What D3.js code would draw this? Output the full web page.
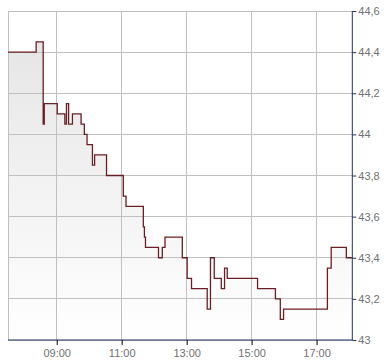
<!DOCTYPE html>
<html><head><meta charset="utf-8">
<script src="https://cdn.jsdelivr.net/npm/d3@7"></script>
<style>body{margin:0;background:#fff}svg{display:block}</style>
</head><body>
<svg id="c" width="390" height="364"></svg>
<script>
const times = ["07:30","08:22","08:35","08:37","09:01","09:15","09:18","09:22","09:29","09:45","09:51","09:56","10:06","10:10","10:32","11:03","11:08","11:40","11:42","11:44","12:08","12:15","12:20","12:52","13:01","13:09","13:38","13:44","13:51","14:04","14:10","14:15","15:11","15:44","15:53","15:59","17:20","17:27","17:55","18:06"];
const values = [44.4,44.45,44.05,44.15,44.1,44.05,44.15,44.05,44.1,44.05,44.0,43.95,43.85,43.9,43.8,43.7,43.65,43.55,43.5,43.45,43.4,43.45,43.5,43.4,43.3,43.25,43.15,43.4,43.3,43.25,43.35,43.3,43.25,43.2,43.1,43.15,43.35,43.45,43.4,43.4];
const xTickLabels = ["09:00","11:00","13:00","15:00","17:00"];
const yTicks = [43,43.2,43.4,43.6,43.8,44,44.2,44.4,44.6];

const parse = d3.timeParse("%H:%M");
const data = times.map((t,i)=>({t:parse(t), v:values[i]}));
const L=8, R=352.3, T=11, B=340;
const x = d3.scaleTime().domain([parse("07:30"), parse("18:06")]).range([L,R]);
const y = d3.scaleLinear().domain([43,44.6]).range([B,T]);
const svg = d3.select("#c");
const defs = svg.append("defs");
const g = defs.append("linearGradient").attr("id","fg").attr("x1",0).attr("y1",0).attr("x2",0).attr("y2",1);
g.append("stop").attr("offset","0%").attr("stop-color","#e6e6e6");
g.append("stop").attr("offset","100%").attr("stop-color","#ffffff");

// area
svg.append("path").datum(data)
  .attr("fill","url(#fg)")
  .attr("d", d3.area().curve(d3.curveStepAfter).x(d=>x(d.t)).y0(B).y1(d=>y(d.v)));

// grid
const grid = svg.append("g").attr("stroke","#c0c0c0").attr("stroke-width",1).attr("shape-rendering","crispEdges");
yTicks.forEach(v=>grid.append("line").attr("x1",L).attr("x2",R).attr("y1",y(v)).attr("y2",y(v)));
const xTicks = xTickLabels.map(parse);
[parse("07:30")].concat(xTicks).forEach(t=>grid.append("line").attr("x1",x(t)).attr("x2",x(t)).attr("y1",T).attr("y2",B));

// line
svg.append("path").datum(data)
  .attr("fill","none").attr("stroke","#6b1f24").attr("stroke-width",1.3)
  .attr("d", d3.line().curve(d3.curveStepAfter).x(d=>x(d.t)).y(d=>y(d.v)));

// axes
const fmt = v => d3.format("~r")(+v.toFixed(1)).replace(".",",");
const yAxis = svg.append("g").attr("transform",`translate(${R},0)`)
  .call(d3.axisRight(y).tickValues(yTicks).tickSize(4).tickPadding(2).tickFormat(fmt));
const xAxis = svg.append("g").attr("transform",`translate(0,${B})`)
  .call(d3.axisBottom(x).tickValues(xTicks).tickSize(5).tickPadding(4).tickFormat(d3.timeFormat("%H:%M")));
[yAxis,xAxis].forEach(a=>{
  a.selectAll("text").attr("fill","#707070").attr("font-family","Liberation Sans, Arial, sans-serif").attr("font-size","11px");
});
yAxis.select(".domain").attr("stroke","#1f3560").attr("d",`M0,${T}V${B}`);
yAxis.selectAll(".tick line").attr("stroke","#1f3560");
xAxis.select(".domain").attr("stroke","#1f3560").attr("d",`M${L},0H${R}`);
xAxis.selectAll(".tick line").attr("stroke","#000");
</script>
</body></html>
